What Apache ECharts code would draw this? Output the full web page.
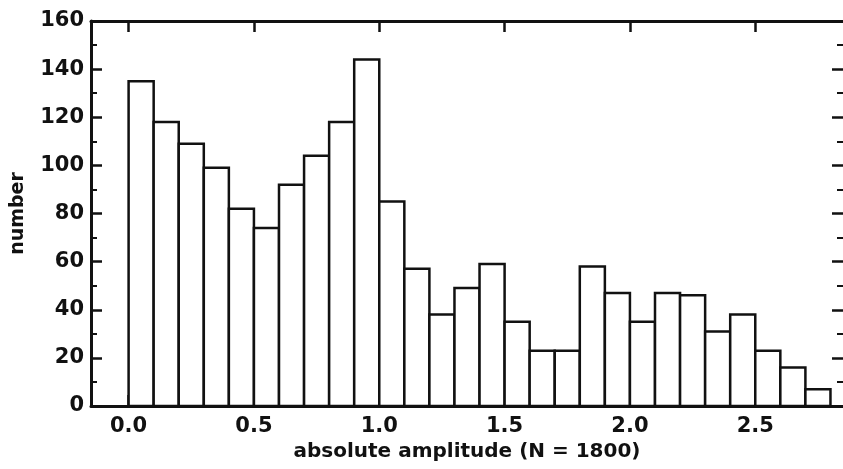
<!DOCTYPE html>
<html>
<head>
<meta charset="utf-8">
<script src="https://cdn.jsdelivr.net/npm/echarts@6/dist/echarts.min.js"></script>
<style>
  html, body { margin: 0; padding: 0; background: #fff; }
  #main { width: 843px; height: 469px; }
</style>
</head>
<body>
<div id="main"></div>
<script>
"use strict";

// histogram bins, width 0.1, starting at 0.0
const binStarts = [0.0, 0.1, 0.2, 0.3, 0.4, 0.5, 0.6, 0.7, 0.8, 0.9,
  1.0, 1.1, 1.2, 1.3, 1.4, 1.5, 1.6, 1.7, 1.8, 1.9,
  2.0, 2.1, 2.2, 2.3, 2.4, 2.5, 2.6, 2.7];
const binWidth = 0.1;
const counts = [135, 118, 109, 99, 82, 74, 92, 104, 118, 144,
  85, 57, 38, 49, 59, 35, 23, 23, 58, 47,
  35, 47, 46, 31, 38, 23, 16, 7];
const xTicks = [0.0, 0.5, 1.0, 1.5, 2.0, 2.5];

let chart = echarts.init(document.getElementById('main'));

let barData = binStarts.map((s, i) => [s, s + binWidth, counts[i]]);

const FONT = 'DejaVu Sans';
const INK = '#111';

let xCommon = {
  type: 'value',
  min: -0.15,
  max: 2.85,
  splitLine: { show: false },
  axisLine: { show: true, onZero: false, lineStyle: { color: INK, width: 3 } },
  axisTick: {
    show: true, inside: true, length: 11, customValues: xTicks,
    lineStyle: { color: INK, width: 2.5 },
  },
};

let yCommon = {
  type: 'value',
  min: 0,
  max: 160,
  interval: 20,
  splitLine: { show: false },
  axisLine: { show: true, onZero: false, lineStyle: { color: INK, width: 3 } },
  axisTick: { show: true, inside: true, length: 11, lineStyle: { color: INK, width: 2.5 } },
  minorTick: { show: true, splitNumber: 2, length: 6, lineStyle: { color: INK, width: 2 } },
};

let option = {
  backgroundColor: '#fff',
  animation: false,
  grid: { left: 91, right: -2, top: 21, bottom: 63 },
  xAxis: [
    Object.assign({}, xCommon, {
      position: 'bottom',
      name: 'absolute amplitude (N = 1800)',
      nameLocation: 'middle',
      nameGap: 36,
      nameTextStyle: { fontFamily: FONT, fontSize: 20, fontWeight: 'bold', color: INK },
      axisLabel: {
        customValues: xTicks,
        fontFamily: FONT, fontSize: 21, fontWeight: 'bold', color: INK, margin: 10,
        formatter: (v) => v.toFixed(1),
      },
    }),
    Object.assign({}, xCommon, {
      position: 'top',
      axisLabel: { show: false },
    }),
  ],
  yAxis: [
    Object.assign({}, yCommon, {
      position: 'left',
      name: 'number',
      nameLocation: 'middle',
      nameGap: 63,
      nameTextStyle: { fontFamily: FONT, fontSize: 19, fontWeight: 'bold', color: INK },
      axisLabel: { fontFamily: FONT, fontSize: 21, fontWeight: 'bold', color: INK, margin: 7 },
    }),
    Object.assign({}, yCommon, {
      position: 'right',
      axisLine: { show: false, onZero: false },
      axisLabel: { show: false },
    }),
  ],
  series: [
    {
      type: 'custom',
      xAxisIndex: 0,
      yAxisIndex: 0,
      data: barData,
      encode: { x: [0, 1], y: 2 },
      renderItem: function (params, api) {
        let p0 = api.coord([api.value(0), api.value(2)]);
        let p1 = api.coord([api.value(1), 0]);
        return {
          type: 'rect',
          shape: { x: p0[0], y: p0[1], width: p1[0] - p0[0], height: p1[1] - p0[1] },
          style: { fill: '#fff', stroke: INK, lineWidth: 2.5 },
        };
      },
    },
  ],
};

chart.setOption(option);
</script>
</body>
</html>
